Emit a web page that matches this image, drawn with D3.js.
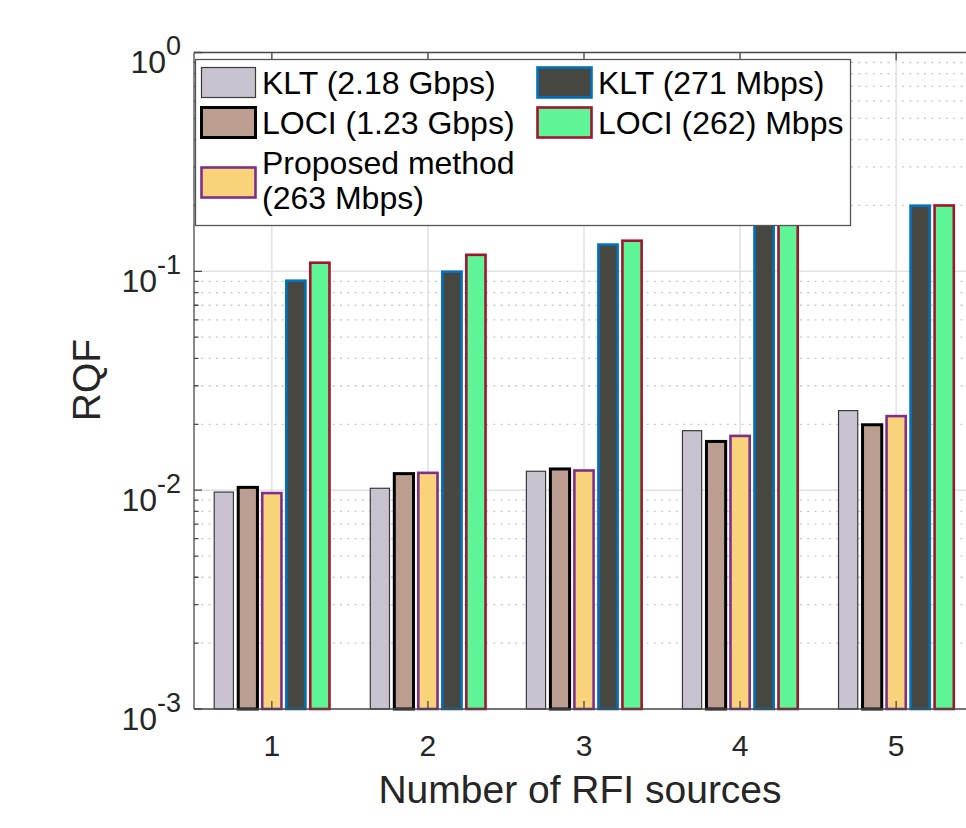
<!DOCTYPE html>
<html lang="en">
<head>
<meta charset="UTF-8">
<title>RQF vs RFI sources</title>
<script src="https://d3js.org/d3.v7.min.js"></script>
<style>
  body { margin: 0; background: #fff; }
  svg text { font-family: "Liberation Sans", Arial, Helvetica, sans-serif; }
</style>
</head>
<body>
<script>
// data
var categories = [1, 2, 3, 4, 5];
var seriesNames = ["KLT (2.18 Gbps)", "LOCI (1.23 Gbps)", "Proposed method (263 Mbps)", "KLT (271 Mbps)", "LOCI (262) Mbps"];
var kltHigh   = [0.0098, 0.0102, 0.0122, 0.0187, 0.0231];
var lociHigh  = [0.0103, 0.0119, 0.0125, 0.0167, 0.0199];
var proposed  = [0.0097, 0.0120, 0.0123, 0.0177, 0.0218];
var kltLow    = [0.0906, 0.0996, 0.1325, 0.175, 0.1995];
var lociLow   = [0.1095, 0.1190, 0.1380, 0.175, 0.2000];
var yTicks = [1e-3, 1e-2, 1e-1, 1e0];
var yTickExp = ["-3", "-2", "-1", "0"];

var seriesValues = [kltHigh, lociHigh, proposed, kltLow, lociLow];
var fills   = ["#c9c3cf", "#bc9e91", "#f9d37a", "#474742", "#5ef597"];
var strokes = ["#3a3a3a", "#000000", "#7e2f8e", "#0072bd", "#a2142f"];
var strokeW = [1.2, 3, 2.6, 2.6, 2.6];

var width = 966, height = 828;
var svg = d3.select("body").append("svg")
    .attr("width", width)
    .attr("height", height);

var plotL = 194, plotT = 52.5, plotB = 709;
var x = d3.scaleLinear().domain([0.5, 5.5]).range([193.8, 974.2]);
var y = d3.scaleLog().domain([1e-3, 1]).range([plotB, plotT]);
var plotR = x(5.5);

// bar positions inside a group (grouped bar, 5 series)
var unit = x(1) - x(0);
var gw = Math.min(0.8, 5 / 6.5) * unit;
var inner = d3.scaleBand().domain(d3.range(5)).range([-gw / 2, gw / 2])
    .paddingInner(0.2).paddingOuter(0.1);

// grid
var grid = svg.append("g");
var minor = [];
[1e-3, 1e-2, 1e-1].forEach(function (d) {
    for (var k = 2; k <= 9; k++) minor.push(d * k);
});
grid.selectAll(".minor").data(minor).enter().append("line")
    .attr("x1", plotL).attr("x2", plotR)
    .attr("y1", function (d) { return y(d); }).attr("y2", function (d) { return y(d); })
    .attr("stroke", "#c8c8c8").attr("stroke-width", 1.3)
    .attr("stroke-dasharray", "2,5.3");
grid.selectAll(".major").data(yTicks).enter().append("line")
    .attr("x1", plotL).attr("x2", plotR)
    .attr("y1", function (d) { return y(d); }).attr("y2", function (d) { return y(d); })
    .attr("stroke", "#e2e2e2").attr("stroke-width", 1.5);
grid.selectAll(".xg").data(categories).enter().append("line")
    .attr("x1", function (d) { return x(d); }).attr("x2", function (d) { return x(d); })
    .attr("y1", plotT).attr("y2", plotB)
    .attr("stroke", "#e2e2e2").attr("stroke-width", 1.5);

// bars
seriesValues.forEach(function (vals, s) {
    svg.append("g").selectAll("rect").data(vals).enter().append("rect")
        .attr("x", function (d, i) { return x(categories[i]) + inner(s); })
        .attr("width", inner.bandwidth())
        .attr("y", function (d) { return y(d); })
        .attr("height", function (d) { return y(1e-3) - y(d); })
        .attr("fill", fills[s])
        .attr("stroke", strokes[s])
        .attr("stroke-width", strokeW[s]);
});

// axes box and ticks
var ax = svg.append("g").attr("stroke", "#4a4a4a").attr("stroke-width", 1.3).attr("fill", "none");
ax.append("line").attr("x1", plotL).attr("x2", plotL).attr("y1", plotT).attr("y2", plotB);
ax.append("line").attr("x1", plotL).attr("x2", plotR).attr("y1", plotB).attr("y2", plotB);
ax.append("line").attr("x1", plotL).attr("x2", plotR).attr("y1", plotT).attr("y2", plotT);
ax.append("line").attr("x1", plotR).attr("x2", plotR).attr("y1", plotT).attr("y2", plotB);

ax.selectAll(".ymaj").data(yTicks).enter().append("path")
    .attr("d", function (d) { return "M" + plotL + "," + y(d) + "h8M" + plotR + "," + y(d) + "h-8"; });
ax.selectAll(".ymin").data(minor).enter().append("path")
    .attr("d", function (d) { return "M" + plotL + "," + y(d) + "h4.5M" + plotR + "," + y(d) + "h-4.5"; });
ax.selectAll(".xt").data(categories).enter().append("path")
    .attr("d", function (d) { return "M" + x(d) + "," + plotB + "v-8M" + x(d) + "," + plotT + "v8"; });

// tick labels
var yl = svg.append("g").attr("fill", "#262626");
yTicks.forEach(function (d, i) {
    var t = yl.append("text")
        .attr("x", 181).attr("y", y(d) + 20.5)
        .attr("text-anchor", "end")
        .attr("font-size", 32);
    t.append("tspan").text("10");
    t.append("tspan").attr("dy", -18).attr("font-size", 27).text(yTickExp[i]);
});
svg.append("g").selectAll("text").data(categories).enter().append("text")
    .attr("x", function (d) { return x(d); })
    .attr("y", 756)
    .attr("text-anchor", "middle")
    .attr("font-size", 30)
    .attr("fill", "#262626")
    .text(function (d) { return d; });

// axis titles
svg.append("text")
    .attr("x", 580).attr("y", 803)
    .attr("text-anchor", "middle")
    .attr("font-size", 39)
    .attr("fill", "#262626")
    .text("Number of RFI sources");
svg.append("text")
    .attr("transform", "translate(100,380) rotate(-90)")
    .attr("text-anchor", "middle")
    .attr("font-size", 39)
    .attr("fill", "#262626")
    .text("RQF");

// legend
var lg = svg.append("g");
lg.append("rect")
    .attr("x", 195.5).attr("y", 59.5).attr("width", 655).attr("height", 166)
    .attr("fill", "#fff").attr("stroke", "#555").attr("stroke-width", 1.3);
var legendItems = [
    {s: 0, x: 201.5, y: 67.5, lines: [seriesNames[0]], ty: [94.3]},
    {s: 1, x: 201.5, y: 107.5, lines: [seriesNames[1]], ty: [134.3]},
    {s: 2, x: 201.5, y: 167.5, lines: ["Proposed method", "(263 Mbps)"], ty: [174, 208.5]},
    {s: 3, x: 537.5, y: 67.5, lines: [seriesNames[3]], ty: [94.3]},
    {s: 4, x: 537.5, y: 107.5, lines: [seriesNames[4]], ty: [134.3]}
];
legendItems.forEach(function (it) {
    lg.append("rect")
        .attr("x", it.x).attr("y", it.y).attr("width", 54).attr("height", 30)
        .attr("fill", fills[it.s]).attr("stroke", strokes[it.s])
        .attr("stroke-width", strokeW[it.s]);
    it.lines.forEach(function (ln, j) {
        lg.append("text")
            .attr("x", it.x + 60.5).attr("y", it.ty[j])
            .attr("font-size", 32)
            .attr("fill", "#000")
            .text(ln);
    });
});
</script>
</body>
</html>
